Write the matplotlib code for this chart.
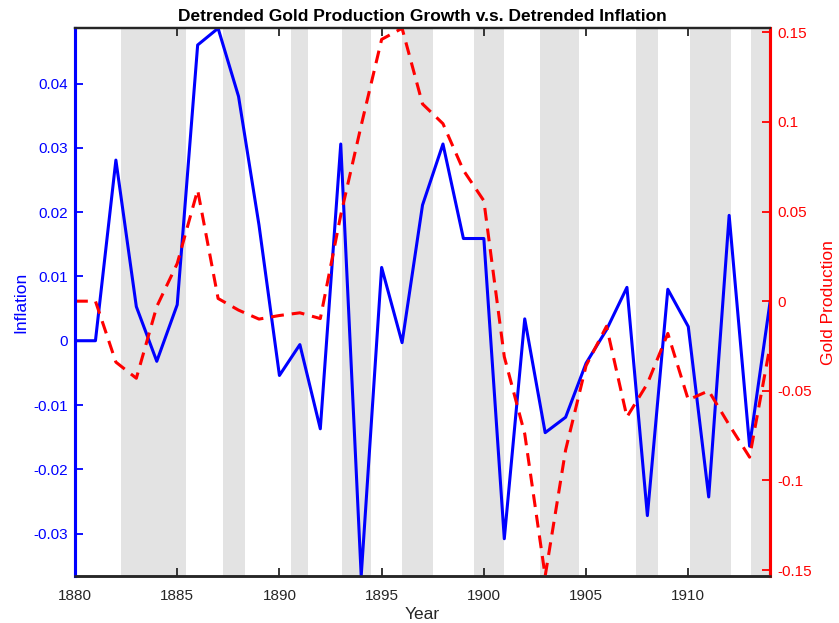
import matplotlib
matplotlib.use("Agg")
import matplotlib.pyplot as plt

plt.rcParams['font.family'] = ['Liberation Sans', 'DejaVu Sans']

years = list(range(1880, 1915))

# detrended inflation (left axis)
inflation = [0.0, 0.0, 0.0281, 0.0053, -0.0032, 0.0056, 0.0460, 0.0486, 0.0380, 0.0180,
             -0.0054, -0.0006, -0.0137, 0.0306, -0.0366, 0.0114, -0.0003, 0.0211, 0.0306, 0.0159,
             0.0159, -0.0308, 0.0034, -0.0143, -0.0119, -0.0035, 0.0017, 0.0083, -0.0272, 0.0080,
             0.0022, -0.0243, 0.0195, -0.0164, 0.0060]

# detrended gold production growth (right axis)
gold = [0.0, 0.0, -0.034, -0.043, -0.003, 0.021, 0.062, 0.0015, -0.005, -0.010,
        -0.008, -0.0065, -0.0097, 0.048, 0.098, 0.146, 0.1522, 0.110, 0.099, 0.073,
        0.056, -0.031, -0.074, -0.1533, -0.083, -0.036, -0.014, -0.0646, -0.046, -0.018,
        -0.055, -0.050, -0.069, -0.087, -0.025]

# NBER recession periods (fractional years)
rec_start = [1882.25, 1887.25, 1890.58, 1893.08, 1896.0, 1899.5, 1902.75, 1907.42, 1910.08, 1913.08]
rec_end = [1885.42, 1888.33, 1891.42, 1894.5, 1897.5, 1901.0, 1904.67, 1908.5, 1912.08, 1915.0]

left_ticks = [-0.03, -0.02, -0.01, 0, 0.01, 0.02, 0.03, 0.04]
left_labels = ['-0.03', '-0.02', '-0.01', '0', '0.01', '0.02', '0.03', '0.04']
right_ticks = [-0.15, -0.1, -0.05, 0, 0.05, 0.1, 0.15]
right_labels = ['-0.15', '-0.1', '-0.05', '0', '0.05', '0.1', '0.15']
x_ticks = [1880, 1885, 1890, 1895, 1900, 1905, 1910]

blue = (0, 0, 1)
red = (1, 0, 0)
dark = '#262626'

fig = plt.figure(figsize=(8.39, 6.23), dpi=100)
ax = fig.add_axes([0.0894, 0.0754, 0.8284, 0.8792])
ax2 = ax.twinx()

for s, e in zip(rec_start, rec_end):
    ax.axvspan(s, e, color='#e3e3e3', lw=0, zorder=0)

ax.plot(years, inflation, color=blue, lw=2.2, zorder=3)
line, = ax2.plot(years, gold, color=red, lw=2.2, ls='--')
line.set_dashes((4.2, 2.6))

ax.set_xlim(1880, 1914)
ax.set_ylim(min(inflation), max(inflation))
ax2.set_ylim(min(gold), max(gold))

ax.set_xticks(x_ticks)
ax.set_xticklabels([str(t) for t in x_ticks])
ax.set_yticks(left_ticks)
ax.set_yticklabels(left_labels)
ax2.set_yticks(right_ticks)
ax2.set_yticklabels(right_labels)

ax.tick_params(axis='x', direction='in', length=5.5, width=1.3, colors=dark,
               labelsize=11, top=True, pad=9)
ax.tick_params(axis='y', direction='in', length=5.5, width=1.3, colors=blue,
               labelsize=11, pad=5)
ax2.tick_params(axis='y', direction='in', length=5.5, width=1.3, colors=red,
                labelsize=11, pad=5)

for a in (ax, ax2):
    a.spines['top'].set_color(dark)
    a.spines['bottom'].set_color(dark)
    a.spines['top'].set_linewidth(1.6)
    a.spines['bottom'].set_linewidth(1.8)
    a.spines['left'].set_color(blue)
    a.spines['right'].set_color(red)
    a.spines['left'].set_linewidth(2.2)
    a.spines['right'].set_linewidth(2.2)

ax.set_xlabel('Year', fontsize=12.5, color=dark, labelpad=3)
ax.set_ylabel('Inflation', fontsize=12.5, color=blue, labelpad=4)
ax2.set_ylabel('Gold Production', fontsize=12.5, color=red, labelpad=7)
ax.set_title('Detrended Gold Production Growth v.s. Detrended Inflation',
             fontsize=12.5, fontweight='bold', color='black', pad=5)

fig.savefig('out.png', dpi=100)
